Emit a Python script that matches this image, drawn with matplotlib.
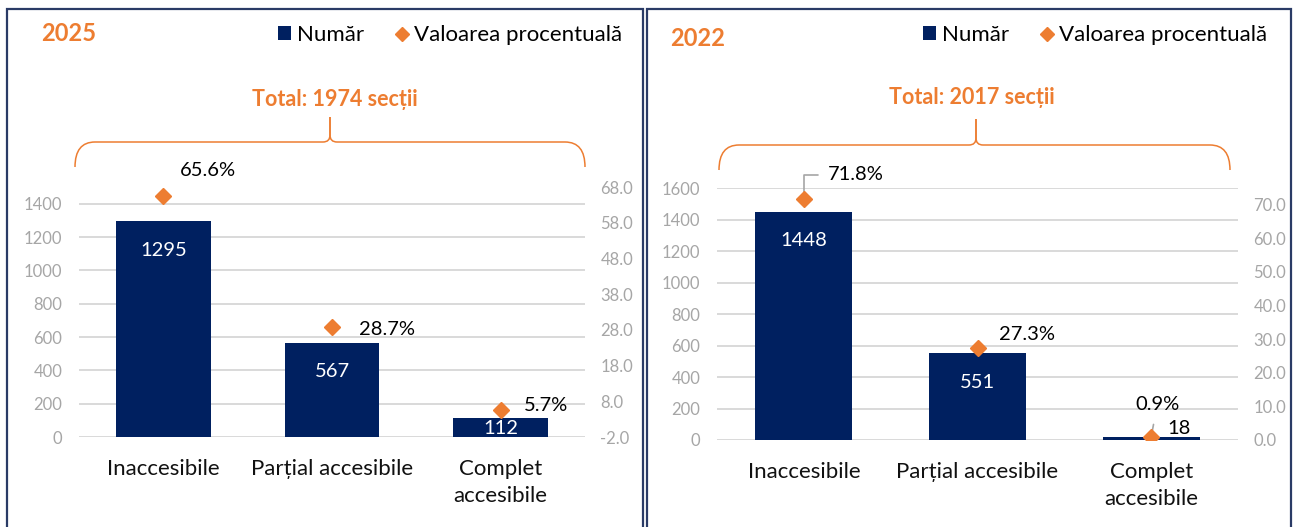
import matplotlib.pyplot as plt
from matplotlib.patches import Rectangle, Patch, PathPatch
from matplotlib.path import Path
from matplotlib.lines import Line2D

plt.rcParams['font.family'] = ['Lato', 'DejaVu Sans']

# data
categories = ["Inaccesibile", "Parțial accesibile", "Complet\naccesibile"]

numar_2025 = [1295, 567, 112]
procent_2025 = [65.6, 28.7, 5.7]
total_2025 = 1974
left_ticks_2025 = [0, 200, 400, 600, 800, 1000, 1200, 1400]
right_ticks_2025 = [-2.0, 8.0, 18.0, 28.0, 38.0, 48.0, 58.0, 68.0]

numar_2022 = [1448, 551, 18]
procent_2022 = [71.8, 27.3, 0.9]
total_2022 = 2017
left_ticks_2022 = [0, 200, 400, 600, 800, 1000, 1200, 1400, 1600]
right_ticks_2022 = [0.0, 10.0, 20.0, 30.0, 40.0, 50.0, 60.0, 70.0]

NAVY = "#002060"
ORANGE = "#ED7D31"
GRID = "#D9D9D9"
TICK = "#A6A6A6"
BORDER = "#2A3B66"
LEADER = "#A6A6A6"

W, H = 1294, 527
fig = plt.figure(figsize=(W / 100, H / 100), dpi=100)


def fx(px):
    return px / W


def fy(py):
    return 1 - py / H


# layout of each panel, in pixels of the output image
panels = [
    dict(year="2025", numar=numar_2025, procent=procent_2025, total=total_2025,
         lticks=left_ticks_2025, rticks=right_ticks_2025, lmax=1500, rlim=(-2, 68),
         box=(7, 9, 643), axes=(79, 187, 585, 437), year_xy=(41, 34),
         legend_xy=(622, 35), total_xy=(335, 100), brace=(75, 330, 585, 167, 142, 117),
         pct_off=[(45, -25), (55, 2), (45, -4)], leaders=[None, None, None]),
    dict(year="2022", numar=numar_2022, procent=procent_2022, total=total_2022,
         lticks=left_ticks_2022, rticks=right_ticks_2022, lmax=1600, rlim=(0, 75),
         box=(647, 9, 1291), axes=(717, 188, 1238, 440), year_xy=(670, 38),
         legend_xy=(1267, 35), total_xy=(972, 98), brace=(719, 976, 1230, 170, 145, 119),
         pct_off=[(52, -24), (49, -14), (6, -32)], leaders=["angle", None, "line"]),
]

for p in panels:
    x0, y0, x1 = p["box"]
    fig.add_artist(Rectangle((fx(x0), fy(560)), fx(x1) - fx(x0), fy(y0) - fy(560),
                             transform=fig.transFigure, fill=False, ec=BORDER, lw=1.6))

    al, at, ar, ab = p["axes"]
    ax = fig.add_axes([fx(al), fy(ab), (ar - al) / W, (ab - at) / H])
    ax2 = ax.twinx()

    x = range(len(categories))
    ax.bar(x, p["numar"], width=0.56, color=NAVY, zorder=2)
    ax.set_xlim(-0.5, 2.5)
    ax.set_ylim(0, p["lmax"])
    ax.set_yticks(p["lticks"])
    ax.set_xticks(list(x), categories)
    for lab in ax.get_xticklabels():
        lab.set_linespacing(1.45)
    ax.grid(axis="y", color=GRID, lw=1.4)
    ax.set_axisbelow(True)
    ax.tick_params(axis="y", length=0, pad=12, labelsize=12, labelcolor=TICK)
    ax.tick_params(axis="x", length=0, pad=16, labelsize=16, labelcolor="#111111")
    for s in ax.spines.values():
        s.set_visible(False)

    ax2.set_ylim(*p["rlim"])
    ax2.set_yticks(p["rticks"], [f"{t:.1f}" for t in p["rticks"]])
    ax2.tick_params(axis="y", length=0, pad=11, labelsize=12, labelcolor=TICK)
    for s in ax2.spines.values():
        s.set_visible(False)
    ax2.plot(list(x), p["procent"], ls="none", marker="D", ms=8, color=ORANGE, zorder=5)

    # bar value labels
    for i, v in enumerate(p["numar"]):
        h_px = ax.transData.transform((0, v))[1] - ax.transData.transform((0, 0))[1]
        if h_px >= 10:
            off = min(29, h_px - 9)
            ax.annotate(str(v), xy=(i, v), xytext=(0, -off * 0.72), textcoords="offset points",
                        ha="center", va="center", fontsize=14.5, color="white", zorder=4)
        else:
            ax.annotate(str(v), xy=(i, v), xytext=(28 * 0.72, 9 * 0.72), textcoords="offset points",
                        ha="center", va="center", fontsize=14.5, color="black", zorder=4)

    # percentage labels
    for i, v in enumerate(p["procent"]):
        dx, dy = p["pct_off"][i]
        kw = {}
        if p["leaders"][i] == "angle":
            kw["arrowprops"] = dict(arrowstyle="-", color=LEADER, lw=1.2, shrinkA=5, shrinkB=0,
                                    connectionstyle="angle,angleA=0,angleB=90,rad=0")
        elif p["leaders"][i] == "line":
            kw["arrowprops"] = dict(arrowstyle="-", color=LEADER, lw=1.2, shrinkA=6, shrinkB=2)
        ax2.annotate(f"{v:.1f}%", xy=(i, v), xytext=(dx * 0.72, -dy * 0.72),
                     textcoords="offset points", ha="center", va="center",
                     fontsize=14.5, color="black", zorder=3, **kw)

    # year
    fig.text(fx(p["year_xy"][0]), fy(p["year_xy"][1]), p["year"], ha="left", va="center",
             fontsize=17, fontweight="bold", color=ORANGE)

    # total + brace
    fig.text(fx(p["total_xy"][0]), fy(p["total_xy"][1]), f"Total: {p['total']} secții",
             ha="center", va="center", fontsize=15.5, fontweight="bold", color=ORANGE)
    bl, bm, br, yb, yh, yp = p["brace"]
    for e, sgn in ((bl, 1), (br, -1)):
        verts = [(e, yb), (e, yh), (e + sgn * 20, yh), (bm - sgn * 7, yh), (bm, yh), (bm, yh - 7), (bm, yp)]
        codes = [Path.MOVETO, Path.CURVE3, Path.CURVE3, Path.LINETO, Path.CURVE3, Path.CURVE3, Path.LINETO]
        path = Path([(fx(a), fy(b)) for a, b in verts], codes)
        fig.add_artist(PathPatch(path, transform=fig.transFigure, fill=False, ec=ORANGE, lw=1.1))

    # legend
    handles = [Patch(facecolor=NAVY, label="Număr"),
               Line2D([], [], ls="none", marker="D", ms=7, color=ORANGE, label="Valoarea procentuală")]
    fig.legend(handles=handles, loc="center right", bbox_to_anchor=(fx(p["legend_xy"][0]), fy(p["legend_xy"][1])),
               ncol=2, frameon=False, fontsize=16, handlelength=0.6, handleheight=0.6,
               handletextpad=0.25, columnspacing=1.4, borderpad=0, borderaxespad=0)

fig.savefig("out.png", dpi=100)
